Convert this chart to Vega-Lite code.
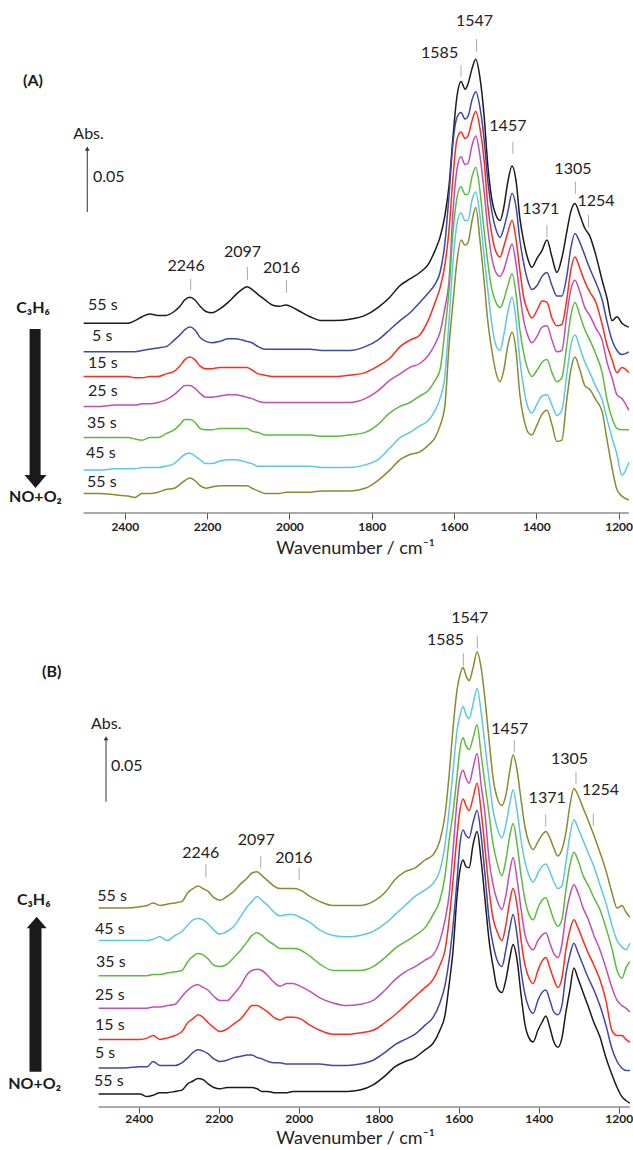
{
"$schema": "https://vega.github.io/schema/vega-lite/v6.json",
"padding": 0,
"spacing": 67,
"bounds": "flush",
"resolve": {"scale": {"color": "independent"}},
"config": {"view": {"stroke": null}, "font": "Lato", "text": {"font": "Lato", "color": "#222"}},
"datasets": {
"specA": [
{"w":2500,"C55":146,"N5":124,"N15":105,"N25":82,"N35":58,"N45":33,"N55":15},
{"w":2460,"C55":146,"N5":124,"N15":105,"N25":82,"N35":58,"N45":33,"N55":15},
{"w":2424,"C55":146,"N5":124,"N15":105,"N25":83,"N35":58,"N45":34,"N55":14},
{"w":2392,"C55":146,"N5":124,"N15":105,"N25":83,"N35":58,"N45":34,"N55":13},
{"w":2375,"C55":148,"N5":124,"N15":104,"N25":83,"N35":57,"N45":34,"N55":12},
{"w":2358,"C55":151,"N5":125,"N15":104,"N25":84,"N35":56,"N45":35,"N55":15},
{"w":2339,"C55":153,"N5":126,"N15":105,"N25":84,"N35":58,"N45":35,"N55":15},
{"w":2319,"C55":152,"N5":127,"N15":105,"N25":85,"N35":58,"N45":35,"N55":16},
{"w":2300,"C55":152,"N5":128,"N15":107,"N25":87,"N35":61,"N45":36,"N55":18},
{"w":2280,"C55":155,"N5":133,"N15":109,"N25":91,"N35":64,"N45":38,"N55":19},
{"w":2266,"C55":159,"N5":137,"N15":113,"N25":95,"N35":68,"N45":42,"N55":22},
{"w":2254,"C55":164,"N5":141,"N15":118,"N25":98,"N35":72,"N45":45,"N55":25},
{"w":2242,"C55":166,"N5":143,"N15":120,"N25":98,"N35":72,"N45":46,"N55":27},
{"w":2230,"C55":164,"N5":141,"N15":118,"N25":96,"N35":70,"N45":44,"N55":25},
{"w":2217,"C55":159,"N5":135,"N15":113,"N25":92,"N35":65,"N45":41,"N55":21},
{"w":2203,"C55":155,"N5":132,"N15":111,"N25":89,"N35":64,"N45":38,"N55":19},
{"w":2188,"C55":154,"N5":131,"N15":111,"N25":89,"N35":64,"N45":38,"N55":20},
{"w":2169,"C55":157,"N5":132,"N15":112,"N25":90,"N35":65,"N45":40,"N55":21},
{"w":2149,"C55":162,"N5":134,"N15":112,"N25":91,"N35":65,"N45":41,"N55":21},
{"w":2130,"C55":168,"N5":134,"N15":112,"N25":91,"N35":65,"N45":41,"N55":21},
{"w":2115,"C55":172,"N5":133,"N15":112,"N25":90,"N35":65,"N45":40,"N55":21},
{"w":2103,"C55":174,"N5":132,"N15":112,"N25":89,"N35":65,"N45":39,"N55":21},
{"w":2091,"C55":172,"N5":131,"N15":110,"N25":88,"N35":63,"N45":38,"N55":19},
{"w":2076,"C55":168,"N5":128,"N15":107,"N25":86,"N35":62,"N45":36,"N55":17},
{"w":2059,"C55":164,"N5":126,"N15":106,"N25":85,"N35":60,"N45":36,"N55":15},
{"w":2042,"C55":160,"N5":126,"N15":105,"N25":85,"N35":60,"N45":36,"N55":15},
{"w":2025,"C55":159,"N5":126,"N15":105,"N25":85,"N35":60,"N45":36,"N55":15},
{"w":2008,"C55":160,"N5":126,"N15":105,"N25":85,"N35":60,"N45":36,"N55":16},
{"w":1991,"C55":158,"N5":126,"N15":105,"N25":85,"N35":60,"N45":36,"N55":16},
{"w":1974,"C55":155,"N5":126,"N15":105,"N25":85,"N35":60,"N45":36,"N55":16},
{"w":1950,"C55":151,"N5":126,"N15":105,"N25":85,"N35":60,"N45":36,"N55":16},
{"w":1921,"C55":148,"N5":125,"N15":105,"N25":85,"N35":59,"N45":35,"N55":17},
{"w":1889,"C55":148,"N5":125,"N15":105,"N25":85,"N35":59,"N45":35,"N55":17},
{"w":1853,"C55":149,"N5":125,"N15":106,"N25":85,"N35":60,"N45":35,"N55":17},
{"w":1816,"C55":152,"N5":128,"N15":108,"N25":88,"N35":62,"N45":37,"N55":19},
{"w":1785,"C55":158,"N5":133,"N15":113,"N25":94,"N35":68,"N45":41,"N55":25},
{"w":1756,"C55":166,"N5":141,"N15":119,"N25":102,"N35":77,"N45":50,"N55":33},
{"w":1731,"C55":175,"N5":148,"N15":128,"N25":107,"N35":82,"N45":58,"N55":41},
{"w":1707,"C55":180,"N5":154,"N15":133,"N25":112,"N35":85,"N45":62,"N55":45},
{"w":1683,"C55":185,"N5":162,"N15":137,"N25":115,"N35":90,"N45":67,"N55":47},
{"w":1663,"C55":191,"N5":169,"N15":148,"N25":121,"N35":94,"N45":71,"N55":52},
{"w":1646,"C55":202,"N5":176,"N15":162,"N25":130,"N35":102,"N45":79,"N55":58},
{"w":1634,"C55":212,"N5":185,"N15":173,"N25":139,"N35":110,"N45":88,"N55":67},
{"w":1622,"C55":229,"N5":208,"N15":191,"N25":158,"N35":141,"N45":106,"N55":83},
{"w":1612,"C55":252,"N5":245,"N15":218,"N25":179,"N35":172,"N45":148,"N55":129},
{"w":1603,"C55":287,"N5":283,"N15":256,"N25":229,"N35":214,"N45":191,"N55":160},
{"w":1593,"C55":320,"N5":304,"N15":287,"N25":264,"N35":242,"N45":222,"N55":193},
{"w":1583,"C55":332,"N5":308,"N15":293,"N25":274,"N35":251,"N45":231,"N55":210},
{"w":1573,"C55":326,"N5":303,"N15":288,"N25":268,"N35":245,"N45":225,"N55":206},
{"w":1566,"C55":330,"N5":305,"N15":290,"N25":269,"N35":245,"N45":225,"N55":208},
{"w":1556,"C55":342,"N5":318,"N15":302,"N25":283,"N35":259,"N45":241,"N55":225},
{"w":1547,"C55":349,"N5":324,"N15":309,"N25":290,"N35":266,"N45":247,"N55":235},
{"w":1537,"C55":335,"N5":312,"N15":296,"N25":275,"N35":248,"N45":229,"N55":210},
{"w":1527,"C55":306,"N5":288,"N15":272,"N25":248,"N35":218,"N45":198,"N55":179},
{"w":1518,"C55":268,"N5":256,"N15":237,"N25":219,"N35":193,"N45":172,"N55":148},
{"w":1508,"C55":241,"N5":232,"N15":214,"N25":196,"N35":172,"N45":145,"N55":125},
{"w":1498,"C55":229,"N5":218,"N15":201,"N25":185,"N35":162,"N45":129,"N55":108},
{"w":1488,"C55":225,"N5":212,"N15":197,"N25":182,"N35":158,"N45":125,"N55":101},
{"w":1479,"C55":235,"N5":219,"N15":205,"N25":187,"N35":164,"N45":137,"N55":110},
{"w":1469,"C55":255,"N5":232,"N15":216,"N25":198,"N35":175,"N45":155,"N55":129},
{"w":1459,"C55":267,"N5":246,"N15":225,"N25":207,"N35":184,"N45":166,"N55":139},
{"w":1449,"C55":255,"N5":235,"N15":210,"N25":191,"N35":168,"N45":148,"N55":124},
{"w":1440,"C55":227,"N5":210,"N15":187,"N25":168,"N35":141,"N45":118,"N55":91},
{"w":1430,"C55":208,"N5":191,"N15":165,"N25":147,"N35":122,"N45":95,"N55":72},
{"w":1420,"C55":195,"N5":178,"N15":155,"N25":136,"N35":110,"N45":81,"N55":62},
{"w":1411,"C55":189,"N5":172,"N15":150,"N25":131,"N35":105,"N45":77,"N55":60},
{"w":1398,"C55":196,"N5":175,"N15":156,"N25":136,"N35":110,"N45":84,"N55":68},
{"w":1386,"C55":202,"N5":182,"N15":163,"N25":143,"N35":116,"N45":90,"N55":76},
{"w":1374,"C55":210,"N5":185,"N15":162,"N25":144,"N35":118,"N45":91,"N55":79},
{"w":1362,"C55":197,"N5":175,"N15":150,"N25":133,"N35":108,"N45":83,"N55":68},
{"w":1350,"C55":185,"N5":167,"N15":144,"N25":124,"N35":101,"N45":75,"N55":55},
{"w":1338,"C55":196,"N5":167,"N15":145,"N25":125,"N35":104,"N45":79,"N55":56},
{"w":1326,"C55":216,"N5":182,"N15":164,"N25":152,"N35":129,"N45":106,"N55":87},
{"w":1316,"C55":232,"N5":204,"N15":187,"N25":172,"N35":152,"N45":129,"N55":110},
{"w":1306,"C55":238,"N5":215,"N15":197,"N25":179,"N35":162,"N45":137,"N55":120},
{"w":1294,"C55":229,"N5":208,"N15":188,"N25":170,"N35":152,"N45":127,"N55":110},
{"w":1282,"C55":219,"N5":198,"N15":178,"N25":158,"N35":141,"N45":116,"N55":98},
{"w":1270,"C55":213,"N5":188,"N15":170,"N25":152,"N35":133,"N45":108,"N55":95},
{"w":1255,"C55":198,"N5":177,"N15":162,"N25":142,"N35":122,"N45":97,"N55":87},
{"w":1240,"C55":179,"N5":164,"N15":145,"N25":133,"N35":108,"N45":87,"N55":78},
{"w":1228,"C55":165,"N5":147,"N15":129,"N25":116,"N35":87,"N45":72,"N55":56},
{"w":1216,"C55":148,"N5":133,"N15":118,"N25":104,"N35":73,"N45":58,"N55":35},
{"w":1204,"C55":151,"N5":125,"N15":108,"N25":91,"N35":65,"N45":45,"N55":18},
{"w":1192,"C55":146,"N5":122,"N15":112,"N25":88,"N35":64,"N45":29,"N55":13},
{"w":1175,"C55":143,"N5":124,"N15":108,"N25":79,"N35":64,"N45":39,"N55":10}
],
"specB": [
{"w":2500,"N55":10,"C5":30,"C15":52,"C25":76,"C35":101,"C45":128,"C55":153},
{"w":2472,"N55":10,"C5":30,"C15":52,"C25":76,"C35":101,"C45":128,"C55":153},
{"w":2434,"N55":10,"C5":30,"C15":52,"C25":76,"C35":101,"C45":128,"C55":153},
{"w":2397,"N55":10,"C5":31,"C15":52,"C25":76,"C35":101,"C45":128,"C55":154},
{"w":2379,"N55":8,"C5":31,"C15":53,"C25":76,"C35":101,"C45":128,"C55":155},
{"w":2364,"N55":9,"C5":35,"C15":55,"C25":77,"C35":102,"C45":129,"C55":157},
{"w":2347,"N55":11,"C5":32,"C15":52,"C25":77,"C35":102,"C45":131,"C55":155},
{"w":2329,"N55":11,"C5":32,"C15":53,"C25":78,"C35":103,"C45":128,"C55":156},
{"w":2309,"N55":12,"C5":32,"C15":55,"C25":79,"C35":104,"C45":132,"C55":157},
{"w":2292,"N55":13,"C5":34,"C15":58,"C25":85,"C35":105,"C45":135,"C55":158},
{"w":2277,"N55":18,"C5":38,"C15":65,"C25":90,"C35":112,"C45":140,"C55":165},
{"w":2264,"N55":20,"C5":42,"C15":68,"C25":93,"C35":116,"C45":144,"C55":168},
{"w":2252,"N55":22,"C5":44,"C15":71,"C25":94,"C35":118,"C45":145,"C55":170},
{"w":2239,"N55":21,"C5":43,"C15":69,"C25":92,"C35":117,"C45":144,"C55":168},
{"w":2227,"N55":18,"C5":41,"C15":65,"C25":90,"C35":114,"C45":141,"C55":166},
{"w":2212,"N55":15,"C5":37,"C15":61,"C25":85,"C35":109,"C45":136,"C55":161},
{"w":2197,"N55":14,"C5":35,"C15":58,"C25":82,"C35":108,"C45":133,"C55":159},
{"w":2179,"N55":15,"C5":36,"C15":60,"C25":82,"C35":110,"C45":135,"C55":162},
{"w":2162,"N55":15,"C5":38,"C15":64,"C25":87,"C35":115,"C45":139,"C55":166},
{"w":2144,"N55":15,"C5":39,"C15":68,"C25":94,"C35":121,"C45":147,"C55":172},
{"w":2129,"N55":15,"C5":40,"C15":74,"C25":102,"C35":127,"C45":154,"C55":176},
{"w":2117,"N55":15,"C5":40,"C15":78,"C25":105,"C35":132,"C45":158,"C55":180},
{"w":2104,"N55":14,"C5":38,"C15":78,"C25":106,"C35":134,"C45":162,"C55":181},
{"w":2092,"N55":12,"C5":37,"C15":76,"C25":105,"C35":132,"C45":159,"C55":178},
{"w":2077,"N55":12,"C5":35,"C15":73,"C25":101,"C35":128,"C45":155,"C55":174},
{"w":2062,"N55":11,"C5":34,"C15":69,"C25":96,"C35":125,"C45":150,"C55":170},
{"w":2047,"N55":11,"C5":34,"C15":67,"C25":93,"C35":122,"C45":147,"C55":168},
{"w":2029,"N55":11,"C5":33,"C15":69,"C25":95,"C35":122,"C45":148,"C55":168},
{"w":2014,"N55":12,"C5":33,"C15":69,"C25":95,"C35":122,"C45":148,"C55":168},
{"w":1997,"N55":12,"C5":33,"C15":68,"C25":93,"C35":121,"C45":146,"C55":167},
{"w":1972,"N55":12,"C5":33,"C15":63,"C25":89,"C35":116,"C45":142,"C55":162},
{"w":1947,"N55":12,"C5":33,"C15":59,"C25":84,"C35":110,"C45":136,"C55":158},
{"w":1914,"N55":12,"C5":32,"C15":56,"C25":80,"C35":105,"C45":132,"C55":155},
{"w":1879,"N55":12,"C5":32,"C15":56,"C25":78,"C35":105,"C45":131,"C55":155},
{"w":1847,"N55":13,"C5":33,"C15":57,"C25":79,"C35":105,"C45":132,"C55":155},
{"w":1814,"N55":17,"C5":36,"C15":59,"C25":82,"C35":108,"C45":135,"C55":158},
{"w":1784,"N55":24,"C5":42,"C15":65,"C25":90,"C35":115,"C45":141,"C55":165},
{"w":1759,"N55":31,"C5":48,"C15":71,"C25":98,"C35":122,"C45":148,"C55":175},
{"w":1734,"N55":35,"C5":52,"C15":78,"C25":104,"C35":127,"C45":155,"C55":181},
{"w":1709,"N55":38,"C5":56,"C15":85,"C25":108,"C35":132,"C45":162,"C55":184},
{"w":1684,"N55":44,"C5":63,"C15":92,"C25":113,"C35":138,"C45":167,"C55":190},
{"w":1664,"N55":49,"C5":69,"C15":98,"C25":117,"C35":148,"C45":172,"C55":194},
{"w":1647,"N55":59,"C5":80,"C15":109,"C25":128,"C35":159,"C45":182,"C55":205},
{"w":1634,"N55":71,"C5":94,"C15":121,"C25":144,"C35":178,"C45":202,"C55":225},
{"w":1624,"N55":94,"C5":113,"C15":144,"C25":163,"C35":205,"C45":228,"C55":255},
{"w":1614,"N55":121,"C5":140,"C15":175,"C25":198,"C35":227,"C45":259,"C55":292},
{"w":1604,"N55":163,"C5":175,"C15":209,"C25":236,"C35":255,"C45":290,"C55":321},
{"w":1597,"N55":182,"C5":202,"C15":228,"C25":253,"C35":275,"C45":301,"C55":332},
{"w":1589,"N55":190,"C5":213,"C15":237,"C25":259,"C35":284,"C45":308,"C55":338},
{"w":1582,"N55":185,"C5":209,"C15":232,"C25":253,"C35":278,"C45":302,"C55":332},
{"w":1574,"N55":184,"C5":207,"C15":228,"C25":249,"C35":275,"C45":299,"C55":328},
{"w":1564,"N55":202,"C5":219,"C15":238,"C25":261,"C35":284,"C45":310,"C55":338},
{"w":1554,"N55":212,"C5":228,"C15":249,"C25":272,"C35":294,"C45":322,"C55":350},
{"w":1544,"N55":190,"C5":209,"C15":228,"C25":248,"C35":271,"C45":304,"C55":338},
{"w":1534,"N55":159,"C5":178,"C15":198,"C25":225,"C35":248,"C45":278,"C55":313},
{"w":1524,"N55":128,"C5":144,"C15":167,"C25":190,"C35":225,"C45":252,"C55":282},
{"w":1514,"N55":108,"C5":125,"C15":145,"C25":171,"C35":202,"C45":228,"C55":253},
{"w":1504,"N55":92,"C5":113,"C15":135,"C25":159,"C35":188,"C45":215,"C55":238},
{"w":1492,"N55":88,"C5":108,"C15":128,"C25":152,"C35":178,"C45":207,"C55":232},
{"w":1482,"N55":98,"C5":121,"C15":140,"C25":163,"C35":190,"C45":217,"C55":240},
{"w":1472,"N55":115,"C5":138,"C15":159,"C25":182,"C35":209,"C45":234,"C55":259},
{"w":1464,"N55":125,"C5":148,"C15":168,"C25":192,"C35":218,"C45":244,"C55":271},
{"w":1454,"N55":113,"C5":132,"C15":155,"C25":175,"C35":202,"C45":228,"C55":259},
{"w":1444,"N55":86,"C5":105,"C15":128,"C25":152,"C35":178,"C45":205,"C55":236},
{"w":1434,"N55":63,"C5":86,"C15":109,"C25":132,"C35":159,"C45":188,"C55":215},
{"w":1424,"N55":53,"C5":76,"C15":99,"C25":124,"C35":148,"C45":178,"C55":203},
{"w":1414,"N55":50,"C5":72,"C15":95,"C25":121,"C35":144,"C45":173,"C55":198},
{"w":1402,"N55":59,"C5":82,"C15":105,"C25":128,"C35":153,"C45":180,"C55":204},
{"w":1392,"N55":65,"C5":88,"C15":112,"C25":132,"C35":159,"C45":185,"C55":209},
{"w":1382,"N55":70,"C5":90,"C15":115,"C25":134,"C35":161,"C45":187,"C55":212},
{"w":1372,"N55":61,"C5":82,"C15":107,"C25":126,"C35":153,"C45":181,"C55":207},
{"w":1362,"N55":50,"C5":73,"C15":98,"C25":118,"C35":144,"C45":173,"C55":199},
{"w":1352,"N55":46,"C5":71,"C15":92,"C25":115,"C35":139,"C45":168,"C55":193},
{"w":1342,"N55":53,"C5":78,"C15":99,"C25":125,"C35":144,"C45":170,"C55":198},
{"w":1332,"N55":73,"C5":102,"C15":121,"C25":148,"C35":167,"C45":188,"C55":211},
{"w":1322,"N55":90,"C5":117,"C15":136,"C25":163,"C35":186,"C45":209,"C55":232},
{"w":1312,"N55":107,"C5":126,"C15":144,"C25":171,"C35":196,"C45":221,"C55":245},
{"w":1302,"N55":99,"C5":119,"C15":138,"C25":165,"C35":190,"C45":215,"C55":240},
{"w":1289,"N55":88,"C5":109,"C15":128,"C25":153,"C35":178,"C45":205,"C55":230},
{"w":1277,"N55":78,"C5":100,"C15":119,"C25":145,"C35":171,"C45":196,"C55":221},
{"w":1262,"N55":65,"C5":90,"C15":109,"C25":132,"C35":161,"C45":185,"C55":209},
{"w":1247,"N55":54,"C5":78,"C15":98,"C25":121,"C35":152,"C45":171,"C55":196},
{"w":1232,"N55":38,"C5":63,"C15":82,"C25":107,"C35":138,"C45":157,"C55":182},
{"w":1217,"N55":25,"C5":45,"C15":59,"C25":92,"C35":122,"C45":140,"C55":165},
{"w":1204,"N55":15,"C5":35,"C15":55,"C25":82,"C35":105,"C45":128,"C55":153},
{"w":1192,"N55":8,"C5":30,"C15":55,"C25":78,"C35":99,"C45":123,"C55":155},
{"w":1182,"N55":5,"C5":28,"C15":52,"C25":76,"C35":107,"C45":121,"C55":150},
{"w":1172,"N55":3,"C5":28,"C15":50,"C25":73,"C35":112,"C45":126,"C55":146}
],
"tickA": [{"w":2240,"y":171.5,"y2":180},{"w":2102,"y":179.2,"y2":189.2},{"w":2007,"y":169.5,"y2":179.2},{"w":1583,"y":335.6,"y2":344.6},{"w":1545,"y":354.6,"y2":364.6},{"w":1457,"y":276.2,"y2":285.6},{"w":1374,"y":212.1,"y2":221.5},{"w":1305,"y":245.4,"y2":254.8},{"w":1273,"y":219.5,"y2":229.2}],
"peakA": [{"w":2251,"y":190.2,"t":"2246"},{"w":2114,"y":201,"t":"2097"},{"w":2019,"y":188.2,"t":"2016"},{"w":1635,"y":354.2,"t":"1585"},{"w":1550,"y":378.1,"t":"1547"},{"w":1469,"y":297.3,"t":"1457"},{"w":1389,"y":234.2,"t":"1371"},{"w":1311,"y":264.6,"t":"1305"},{"w":1255,"y":240.2,"t":"1254"},{"w":2488,"y":291.5,"t":"Abs."}],
"timeA": [{"w":2489.5,"y":160,"t":"55 s"},{"w":2479.7,"y":136.2,"t":"5 s"},{"w":2489.5,"y":115,"t":"15 s"},{"w":2489.5,"y":93.5,"t":"25 s"},{"w":2491.9,"y":69.2,"t":"35 s"},{"w":2494.3,"y":46.2,"t":"45 s"},{"w":2491.9,"y":23.5,"t":"55 s"},{"w":2477.3,"y":258.5,"t":"0.05"}],
"boldA": [{"w":2623,"y":328.5,"t":"(A)"},{"w":2623,"y":153.5,"t":"C₃H₆"},{"w":2617,"y":8.5,"t":"NO+O₂"}],
"tickB": [{"w":2232,"y":176.7,"y2":186.9},{"w":2095,"y":183.6,"y2":193.1},{"w":1999,"y":174.6,"y2":184.4},{"w":1588.5,"y":339.2,"y2":349},{"w":1553.5,"y":352.8,"y2":362.3},{"w":1461,"y":272.8,"y2":282.3},{"w":1306.8,"y":248.2,"y2":257.5},{"w":1382.5,"y":215.6,"y2":225.2},{"w":1263.5,"y":216.4,"y2":225.9}],
"peakB": [{"w":2245,"y":195.4,"t":"2246"},{"w":2106,"y":205.6,"t":"2097"},{"w":2012,"y":191.7,"t":"2016"},{"w":1633,"y":359.2,"t":"1585"},{"w":1572.5,"y":376.3,"t":"1547"},{"w":1472.5,"y":290.4,"t":"1457"},{"w":1323,"y":267.8,"t":"1305"},{"w":1378.8,"y":237.5,"t":"1371"},{"w":1245.5,"y":243.8,"t":"1254"},{"w":2481,"y":294.5,"t":"Abs."}],
"timeB": [{"w":2503.5,"y":162.3,"t":"55 s"},{"w":2509.3,"y":136.9,"t":"45 s"},{"w":2506.8,"y":111.5,"t":"35 s"},{"w":2509.3,"y":86.2,"t":"25 s"},{"w":2509.3,"y":63.1,"t":"15 s"},{"w":2509.3,"y":41.5,"t":"5 s"},{"w":2511.8,"y":20,"t":"55 s"},{"w":2469.3,"y":262.2,"t":"0.05"}],
"boldB": [{"w":2617.5,"y":330.8,"t":"(B)"},{"w":2662.5,"y":155.4,"t":"C₃H₆"},{"w":2660,"y":13.8,"t":"NO+O₂"}]
},
"vconcat": [
{
"width": 633, "height": 513,
"encoding": {
 "x": {"field": "w", "type": "quantitative", "scale": {"domain": [1165, 2703.3], "reverse": true, "nice": false, "zero": false},
  "axis": {"values": [2400,2200,2000,1800,1600,1400,1200], "format": "d", "domain": false, "grid": false, "ticks": true, "tickSize": 6, "tickColor": "#555", "labelFont": "Lato", "labelFontSize": 12, "labelFontWeight": "bold", "labelColor": "#222", "labelPadding": 2, "labelFlush": false, "title": "Wavenumber / cm⁻¹", "titleFont": "Lato", "titleFontSize": 18, "titleFontWeight": "normal", "titleColor": "#222", "titleX": 355, "titleY": 35, "titleBaseline": "middle", "titleAlign": "center"}},
 "y": {"field": "y", "type": "quantitative", "scale": {"domain": [0, 394.6], "nice": false, "zero": false}, "axis": null}
},
"layer": [
{"data": {"name": "specA"},
 "transform": [{"fold": ["C55","N5","N15","N25","N35","N45","N55"], "as": ["series","y"]}],
 "mark": {"type": "line", "strokeWidth": 1.5, "interpolate": "monotone"},
 "encoding": {
  "color": {"field": "series", "type": "nominal", "scale": {"domain": ["C55","N5","N15","N25","N35","N45","N55"], "range": ["#1a1a1a","#3d47a8","#ff2b1c","#c44db4","#5dbb3c","#5cc8e4","#8a8a2e"]}, "legend": null}
 }},
{"data": {"values": [{"w": 2500, "x2": 1175, "y": 0}]},
 "mark": {"type": "rule", "color": "#555", "strokeWidth": 1.2},
 "encoding": {"x2": {"field": "x2"}}},
{"data": {"name": "tickA"},
 "mark": {"type": "rule", "color": "#aaa", "strokeWidth": 1},
 "encoding": {"y2": {"field": "y2"}}},
{"data": {"name": "peakA"},
 "mark": {"type": "text", "fontSize": 16, "align": "center", "baseline": "middle"},
 "encoding": {"text": {"field": "t"}}},
{"data": {"name": "timeA"},
 "mark": {"type": "text", "fontSize": 16, "align": "left", "baseline": "middle"},
 "encoding": {"text": {"field": "t"}}},
{"data": {"name": "boldA"},
 "mark": {"type": "text", "fontSize": 16, "fontWeight": "bold", "align": "center", "baseline": "alphabetic", "color": "#1a1a1a"},
 "encoding": {"text": {"field": "t"}}},
{"data": {"values": [{"w": 2491.2, "y": 231.5, "y2": 280}]},
 "mark": {"type": "rule", "color": "#333", "strokeWidth": 1},
 "encoding": {"y2": {"field": "y2"}}},
{"data": {"values": [{"w": 2491.2, "y": 280.3}]},
 "mark": {"type": "point", "shape": "triangle-up", "size": 22, "filled": true, "color": "#333", "opacity": 1},
 "encoding": {}},
{"data": {"values": [{"w": 2618, "y": 29.2, "y2": 141.5}]},
 "mark": {"type": "rule", "color": "#1a1a1a", "strokeWidth": 11},
 "encoding": {"y2": {"field": "y2"}}},
{"data": {"values": [{"w": 2617, "y": 24.2}]},
 "mark": {"type": "point", "shape": "M-1,-0.59L1,-0.59L0,0.59Z", "size": 484, "filled": true, "color": "#1a1a1a", "opacity": 1},
 "encoding": {}}
]
},
{
"width": 633, "height": 527,
"encoding": {
 "x": {"field": "w", "type": "quantitative", "scale": {"domain": [1164.25, 2746.75], "reverse": true, "nice": false, "zero": false},
  "axis": {"values": [2400,2200,2000,1800,1600,1400,1200], "format": "d", "domain": false, "grid": false, "ticks": true, "tickSize": 6, "tickColor": "#555", "labelFont": "Lato", "labelFontSize": 12, "labelFontWeight": "bold", "labelColor": "#222", "labelPadding": 0, "labelFlush": false, "title": "Wavenumber / cm⁻¹", "titleFont": "Lato", "titleFontSize": 18, "titleFontWeight": "normal", "titleColor": "#222", "titleX": 355, "titleY": 31.5, "titleBaseline": "middle", "titleAlign": "center"}},
 "y": {"field": "y", "type": "quantitative", "scale": {"domain": [0, 405.4], "nice": false, "zero": false}, "axis": null}
},
"layer": [
{"data": {"name": "specB"},
 "transform": [{"fold": ["N55","C5","C15","C25","C35","C45","C55"], "as": ["series","y"]}],
 "mark": {"type": "line", "strokeWidth": 1.5, "interpolate": "monotone"},
 "encoding": {
  "color": {"field": "series", "type": "nominal", "scale": {"domain": ["N55","C5","C15","C25","C35","C45","C55"], "range": ["#1a1a1a","#3d47a8","#ff2b1c","#c44db4","#5dbb3c","#5cc8e4","#8a8a2e"]}, "legend": null}
 }},
{"data": {"values": [{"w": 2500, "x2": 1172, "y": 0}]},
 "mark": {"type": "rule", "color": "#555", "strokeWidth": 1.2},
 "encoding": {"x2": {"field": "x2"}}},
{"data": {"name": "tickB"},
 "mark": {"type": "rule", "color": "#aaa", "strokeWidth": 1},
 "encoding": {"y2": {"field": "y2"}}},
{"data": {"name": "peakB"},
 "mark": {"type": "text", "fontSize": 16, "align": "center", "baseline": "middle"},
 "encoding": {"text": {"field": "t"}}},
{"data": {"name": "timeB"},
 "mark": {"type": "text", "fontSize": 16, "align": "left", "baseline": "middle"},
 "encoding": {"text": {"field": "t"}}},
{"data": {"name": "boldB"},
 "mark": {"type": "text", "fontSize": 16, "fontWeight": "bold", "align": "center", "baseline": "alphabetic", "color": "#1a1a1a"},
 "encoding": {"text": {"field": "t"}}},
{"data": {"values": [{"w": 2481.75, "y": 234.8, "y2": 283.3}]},
 "mark": {"type": "rule", "color": "#333", "strokeWidth": 1},
 "encoding": {"y2": {"field": "y2"}}},
{"data": {"values": [{"w": 2481.75, "y": 283.6}]},
 "mark": {"type": "point", "shape": "triangle-up", "size": 22, "filled": true, "color": "#333", "opacity": 1},
 "encoding": {}},
{"data": {"values": [{"w": 2658, "y": 27.2, "y2": 137.7}]},
 "mark": {"type": "rule", "color": "#1a1a1a", "strokeWidth": 12},
 "encoding": {"y2": {"field": "y2"}}},
{"data": {"values": [{"w": 2655, "y": 141.9}]},
 "mark": {"type": "point", "shape": "M-1,0.58L1,0.58L0,-0.58Z", "size": 400, "filled": true, "color": "#1a1a1a", "opacity": 1},
 "encoding": {}}
]
}
]
}
